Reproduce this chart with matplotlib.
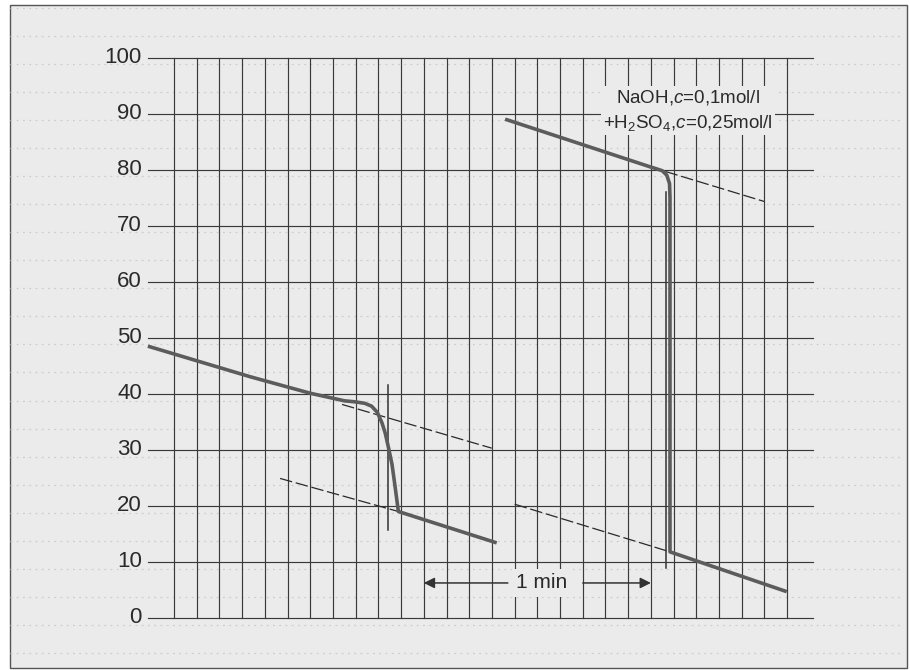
"""Titration-type recorder chart: conductivity trace vs time (two runs)."""
import matplotlib
matplotlib.use("Agg")
import matplotlib.pyplot as plt
from matplotlib.patches import Rectangle

plt.rcParams["font.family"] = ["Liberation Sans Narrow", "Liberation Sans", "DejaVu Sans"]
plt.rcParams["mathtext.fontset"] = "custom"
plt.rcParams["mathtext.rm"] = "Liberation Sans"
plt.rcParams["mathtext.it"] = "Liberation Sans:italic"

# ---- data (x in chart divisions, y in scale units) ----
y_ticks = [0, 10, 20, 30, 40, 50, 60, 70, 80, 90, 100]
n_vlines = 28                      # vertical grid divisions 0..27

# run 1: slow bend
run1_x = [-1.15, 3.35, 6.0, 7.0, 7.5, 8.0, 8.4, 8.7, 8.95, 9.15, 9.3, 9.45, 9.6, 9.73, 9.88, 14.21]
run1_y = [48.5, 43.05, 40.1, 39.2, 38.75, 38.55, 38.3, 37.8, 36.7, 34.9, 33.0, 30.3, 27.4, 23.6, 19.0, 13.4]
run1_upper_x, run1_upper_y = [7.4, 13.99], [38.1, 30.3]
run1_lower_x, run1_lower_y = [4.67, 9.88], [24.9, 19.0]
run1_mark_x, run1_mark_y = [9.44, 9.44], [15.7, 41.6]

# run 2: NaOH + H2SO4, sharp jump
run2_x = [14.58, 20.96, 21.2, 21.5, 21.7, 21.82, 21.84, 21.84, 26.98]
run2_y = [89.0, 80.5, 80.2, 79.8, 79.0, 77.5, 75.0, 11.8, 4.7]
run2_upper_x, run2_upper_y = [20.96, 26.0], [80.5, 74.3]
run2_lower_x, run2_lower_y = [15.0, 21.84], [20.3, 11.8]
run2_mark_x, run2_mark_y = [21.68, 21.68], [9.0, 76.0]

label_run2 = "NaOH,$c$=0,1mol/l\n+H$_2$SO$_4$,$c$=0,25mol/l"
time_span = (11, 21)               # 1 min = 10 divisions
time_label = "1 min"

PAPER = "#ebebeb"
GRID = "#3a3a3a"
TRACE = "#5c5c5c"

fig = plt.figure(figsize=(9.1, 6.7), dpi=100)
ax = fig.add_axes([0, 0, 1, 1])
ax.set_xlim(-7.662, 32.409)
ax.set_ylim(-9.28, 110.26)
ax.axis("off")

# paper frame
ax.add_patch(Rectangle((10 / 910, 2 / 670), 897 / 910, 663 / 670, transform=ax.transAxes,
                       facecolor=PAPER, edgecolor="#555555", lw=1.0, zorder=0))

# faint show-through rows
for v in range(-8, 110, 5):
    ax.plot([-7.2, 32.1], [v + 1.8, v + 1.8], color="#cdcdcd", lw=0.9,
            ls=(0, (1.5, 3.5)), zorder=0.5)

# grid
for v in y_ticks:
    ax.plot([-1.15, 28.15], [v, v], color=GRID, lw=0.85, zorder=1)
    ax.text(-1.41, v, str(v), ha="right", va="center", fontsize=16, color="#2a2a2a")
for i in range(n_vlines):
    ax.plot([i, i], [0, 100], color=GRID, lw=0.85, zorder=1)

dash = dict(color="#2a2a2a", lw=0.9, ls=(0, (10, 3)), zorder=2)
ax.plot(run1_upper_x, run1_upper_y, **dash)
ax.plot(run1_lower_x, run1_lower_y, **dash)
ax.plot(run2_upper_x, run2_upper_y, **dash)
ax.plot(run2_lower_x, run2_lower_y, **dash)

ax.plot(run1_mark_x, run1_mark_y, color="#333333", lw=1.1, zorder=2)
ax.plot(run2_mark_x, run2_mark_y, color="#333333", lw=1.1, zorder=2)

ax.plot(run1_x, run1_y, color=TRACE, lw=2.6, solid_capstyle="butt",
        solid_joinstyle="round", zorder=3)
ax.plot(run2_x, run2_y, color=TRACE, lw=2.6, solid_capstyle="butt",
        solid_joinstyle="round", zorder=3)

ax.text(22.63, 90.6, label_run2, ha="center", va="center", fontsize=13.5,
        linespacing=1.4, color="#2a2a2a", zorder=4,
        bbox=dict(facecolor=PAPER, edgecolor="none", pad=1.5))

# 1 min scale bar
y_bar = 6.25
mid = 16.2
arrow = dict(arrowstyle="-|>", color="#333333", lw=1.1, mutation_scale=16,
             shrinkA=0, shrinkB=0)
ax.annotate("", xy=(time_span[0], y_bar), xytext=(mid - 1.5, y_bar), arrowprops=arrow, zorder=4)
ax.annotate("", xy=(time_span[1], y_bar), xytext=(mid + 1.8, y_bar), arrowprops=arrow, zorder=4)
ax.text(mid, y_bar, time_label, ha="center", va="center", fontsize=15, color="#2a2a2a",
        zorder=4, bbox=dict(facecolor=PAPER, edgecolor="none", pad=3))

fig.savefig("out.png", dpi=100)
